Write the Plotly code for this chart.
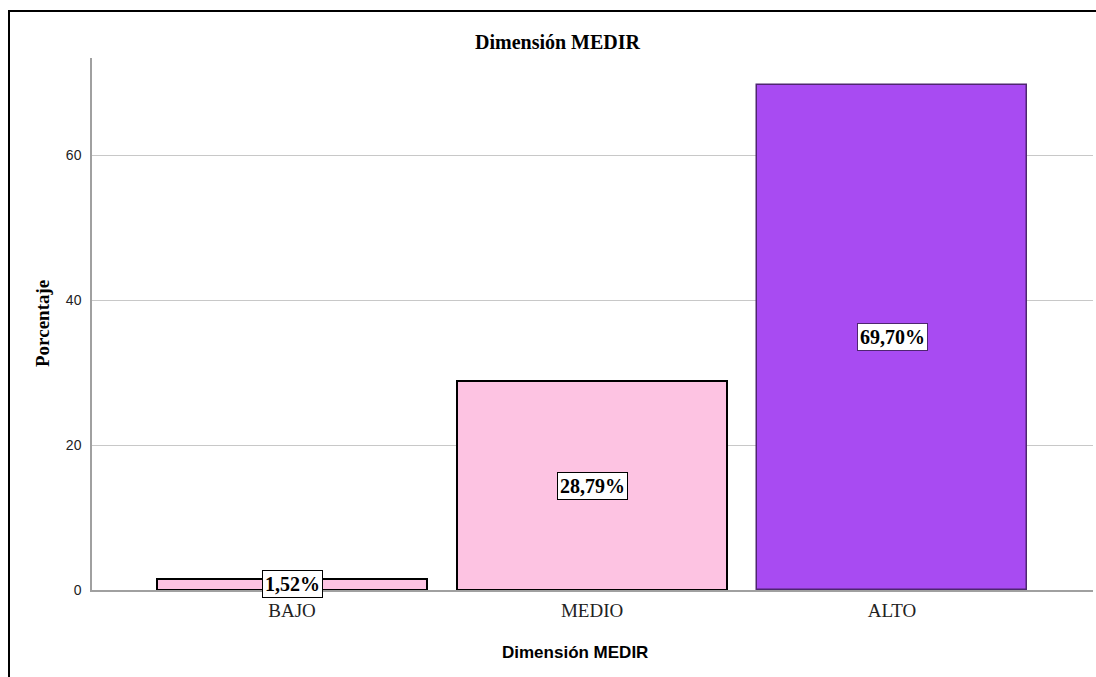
import plotly.graph_objects as go

categorias = ["BAJO", "MEDIO", "ALTO"]
porcentajes = [1.52, 28.79, 69.70]
etiquetas = ["1,52%", "28,79%", "69,70%"]
colores = ["#FDC3E2", "#FDC3E2", "#A84BF2"]
bordes = ["#000000", "#000000", "#4E2670"]
ticks_y = [0, 20, 40, 60]

W, H = 1096, 677
L, R, T, B = 92, 3, 58, 87
pw, ph = W - L - R, H - T - B


def px(x):
    return (x - L) / pw


def py(y):
    return (H - B - y) / ph


fig = go.Figure()
fig.add_trace(go.Bar(
    x=[0, 1, 2],
    y=porcentajes,
    width=0.9,
    marker=dict(color=colores, line=dict(color=bordes, width=[2, 2, 1.5])),
    hoverinfo="skip",
))

for i, (v, t) in enumerate(zip(porcentajes, etiquetas)):
    fig.add_annotation(
        x=i, y=v / 2, text="<b>" + t + "</b>", showarrow=False,
        xref="x", yref="y", xanchor="center", yanchor="middle",
        font=dict(family="Liberation Serif", size=20, color="#000000"),
        bgcolor="#FFFFFF", bordercolor=bordes[i], borderwidth=1, borderpad=2,
    )

fig.add_annotation(
    x=px(558), y=py(42), xref="paper", yref="paper", showarrow=False,
    xanchor="center", yanchor="middle",
    text="<b>Dimensión MEDIR</b>",
    font=dict(family="Liberation Serif", size=20, color="#000000"),
)
fig.add_annotation(
    x=px(42), y=py(324), xref="paper", yref="paper", showarrow=False,
    xanchor="center", yanchor="middle",
    text="<b>Porcentaje</b>", textangle=-90,
    font=dict(family="Liberation Serif", size=19, color="#000000"),
)
fig.add_annotation(
    x=px(575), y=py(652), xref="paper", yref="paper", showarrow=False,
    xanchor="center", yanchor="middle",
    text="<b>Dimensión MEDIR</b>",
    font=dict(family="Liberation Sans", size=17, color="#000000"),
)

# outer frame: top and left edges only
fig.add_shape(
    type="line", xref="paper", yref="paper",
    x0=px(8), x1=px(1140), y0=py(11), y1=py(11),
    line=dict(color="#000000", width=2),
)
fig.add_shape(
    type="line", xref="paper", yref="paper",
    x0=px(9), x1=px(9), y0=py(10), y1=py(720),
    line=dict(color="#000000", width=2),
)

fig.update_xaxes(
    range=[-0.667, 2.67],
    tickmode="array", tickvals=[0, 1, 2], ticktext=categorias,
    tickfont=dict(family="Liberation Serif", size=19, color="#222222"),
    showgrid=False, zeroline=False,
    showline=True, linecolor="#A0A0A0", linewidth=1.5,
    ticks="", ticklabelstandoff=2,
)
fig.update_yaxes(
    range=[0, 73.4],
    tickmode="array", tickvals=ticks_y,
    tickfont=dict(family="Liberation Sans", size=14, color="#222222"),
    showgrid=True, gridcolor="#C8C8C8", gridwidth=1,
    zeroline=False,
    showline=True, linecolor="#A0A0A0", linewidth=1.5,
    ticks="", ticklabelstandoff=6,
)

fig.update_layout(
    width=W, height=H,
    margin=dict(l=L, r=R, t=T, b=B),
    paper_bgcolor="#FFFFFF", plot_bgcolor="#FFFFFF",
    showlegend=False, bargap=0,
)

fig.write_html("out.html")
